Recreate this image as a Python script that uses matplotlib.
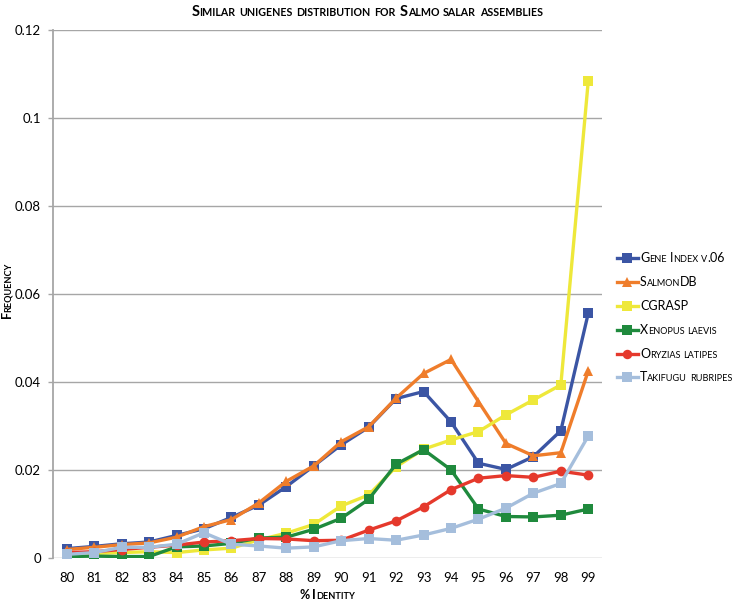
import matplotlib
matplotlib.use("Agg")
import matplotlib.pyplot as plt
from matplotlib.offsetbox import TextArea, HPacker, DrawingArea, AnnotationBbox
from matplotlib.lines import Line2D

FONT = "Lato"

identity = list(range(80, 100))
gene_index = [0.0022, 0.0027, 0.0033, 0.0037, 0.0052, 0.0067, 0.0093, 0.0121, 0.0163, 0.0210,
              0.0258, 0.0298, 0.0363, 0.0379, 0.0310, 0.0216, 0.0202, 0.0231, 0.0290, 0.0557]
salmondb = [0.0020, 0.0025, 0.0031, 0.0035, 0.0048, 0.0072, 0.0088, 0.0126, 0.0175, 0.0210,
            0.0265, 0.0299, 0.0364, 0.0420, 0.0452, 0.0356, 0.0261, 0.0233, 0.0240, 0.0426]
cgrasp = [0.0008, 0.0011, 0.0013, 0.0015, 0.0013, 0.0019, 0.0023, 0.0042, 0.0057, 0.0077,
          0.0119, 0.0144, 0.0208, 0.0248, 0.0269, 0.0288, 0.0326, 0.0360, 0.0394, 0.1085]
xenopus = [0.0004, 0.0005, 0.0004, 0.0004, 0.0026, 0.0028, 0.0034, 0.0046, 0.0048, 0.0066,
           0.0091, 0.0134, 0.0214, 0.0247, 0.0201, 0.0112, 0.0095, 0.0094, 0.0098, 0.0112]
oryzias = [0.0013, 0.0015, 0.0020, 0.0025, 0.0030, 0.0037, 0.0040, 0.0045, 0.0044, 0.0040,
           0.0041, 0.0064, 0.0085, 0.0117, 0.0156, 0.0182, 0.0188, 0.0184, 0.0198, 0.0189]
takifugu = [0.0009, 0.0013, 0.0025, 0.0025, 0.0032, 0.0058, 0.0032, 0.0028, 0.0023, 0.0026,
            0.0040, 0.0045, 0.0041, 0.0053, 0.0068, 0.0089, 0.0114, 0.0148, 0.0170, 0.0278]

series_names = ["Gene Index v.06", "SalmonDB", "CGRASP", "Xenopus laevis",
                "Oryzias latipes", "Takifugu rubripes"]
series_values = [gene_index, salmondb, cgrasp, xenopus, oryzias, takifugu]
colors = ["#3b55a4", "#ef7d2b", "#eee83a", "#1f8a3d", "#e5392c", "#a5bedc"]
markers = ["s", "^", "s", "s", "o", "s"]
yticks = [0, 0.02, 0.04, 0.06, 0.08, 0.1, 0.12]
ytick_labels = ["0", "0.02", "0.04", "0.06", "0.08", "0.1", "0.12"]

title_text = "Similar unigenes distribution for Salmo salar assemblies"
xlabel_text = "% Identity"
ylabel_text = "Frequency"

W, H = 733, 602
fig = plt.figure(figsize=(W / 100, H / 100), dpi=100)
ax = fig.add_axes([53 / W, 1 - 558.3 / H, (602 - 53) / W, (558.3 - 30.3) / H])

for vals, c, m in zip(series_values, colors, markers):
    ax.plot(identity, vals, color=c, lw=2.4, marker=m, ms=6.8 if m != "o" else 7,
            markeredgewidth=0, solid_joinstyle="round", zorder=3)

ax.set_xlim(79.5, 99.5)
ax.set_ylim(0, 0.12)
ax.set_xticks(identity)
ax.set_xticklabels([str(v) for v in identity], fontfamily=FONT, fontsize=9.5)
ax.set_yticks(yticks)
ax.set_yticklabels(ytick_labels, fontfamily=FONT, fontsize=9.5)
ax.tick_params(axis="x", length=0, pad=10)
ax.tick_params(axis="y", length=3.6, width=1, color="#a6a6a6", pad=5)
ax.grid(axis="y", color="#a6a6a6", lw=1)
ax.set_axisbelow(True)
for s in ["top", "right", "bottom"]:
    ax.spines[s].set_visible(False)
ax.spines["left"].set_color("#a6a6a6")
ax.spines["left"].set_linewidth(1.3)


def is_big(ch):
    return not ch.islower()


def split_runs(word):
    runs = []
    for ch in word:
        b = is_big(ch)
        if runs and runs[-1][1] == b:
            runs[-1][0] += ch
        else:
            runs.append([ch, b])
    return runs


def word_box(word, big, small, weight):
    kids = [TextArea(s.upper(), textprops=dict(fontsize=big if b else small,
                                                fontweight=weight, fontfamily=FONT))
            for s, b in split_runs(word)]
    return HPacker(children=kids, align="baseline", pad=0, sep=0)


def smallcaps_box(text, big, small, weight="normal", space=2.2):
    words = [word_box(w, big, small, weight) for w in text.split(" ")]
    return HPacker(children=words, align="baseline", pad=0, sep=space)


def place(box, x, y, align=(0.5, 0.5)):
    ab = AnnotationBbox(box, (x, H - y), xycoords="figure pixels",
                        box_alignment=align, frameon=False, pad=0)
    fig.add_artist(ab)


# title
place(smallcaps_box(title_text, 10.5, 7.7, "bold", 2.8), 367, 11.5)
# x label
place(smallcaps_box(xlabel_text, 9, 6.6, "bold", 2.2), 327, 595)

# y label (rotated small caps), pieces chained upward along the baseline
x_base = 11
runs = split_runs(ylabel_text)
sizes = [9 if b else 6.6 for s, b in runs]
first = fig.text(x_base, H - 318, runs[0][0].upper(), rotation=90,
                 rotation_mode="anchor", ha="left", va="baseline",
                 fontsize=sizes[0], fontweight="bold", fontfamily=FONT,
                 transform=None)
prev = first
for (s, b), sz in zip(runs[1:], sizes[1:]):
    prev = fig.add_artist(matplotlib.text.Annotation(
        s.upper(), xy=(x_base, 1.0), xycoords=("figure pixels", prev),
        xytext=(0, -1.5), textcoords="offset pixels",
        rotation=90, rotation_mode="anchor", ha="left", va="baseline",
        fontsize=sz, fontweight="bold", fontfamily=FONT))

# legend
leg_y = [258, 282, 306, 330, 353.5, 377]
for name, c, m, yy in zip(series_names, colors, markers, leg_y):
    da = DrawingArea(15, 8, 0, 0)
    da.add_artist(Line2D([0, 15], [4, 4], color=c, lw=2.4))
    da.add_artist(Line2D([7.5], [4], color=c, marker=m, ms=6.5 if m != "o" else 6.8,
                         markeredgewidth=0))
    row = HPacker(children=[da, smallcaps_box(name, 9, 6.6, "normal", 2.0)],
                  align="center", pad=0, sep=1.5)
    place(row, 617, yy, align=(0, 0.5))

fig.savefig("out.png", dpi=100)
